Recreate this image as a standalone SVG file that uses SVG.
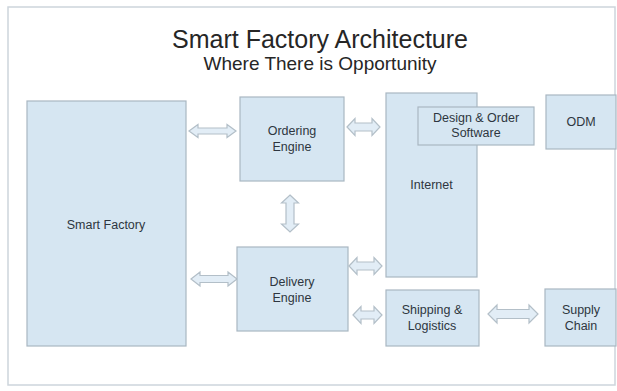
<svg xmlns="http://www.w3.org/2000/svg" width="617" height="391" viewBox="0 0 617 391">
<style>
.node{fill:#d6e6f2;stroke:#a9b7c2;stroke-width:1.2}
.lbl{font-family:"Liberation Sans",Arial,sans-serif;font-size:12.5px;fill:#2e3640;text-anchor:middle}
.arr{fill:#e2edf6;stroke:#b3bfc8;stroke-width:1.2;stroke-linejoin:miter}
.title{font-family:"Liberation Sans",Arial,sans-serif;fill:#262626;text-anchor:middle}
</style>
<rect x="0" y="0" width="617" height="391" fill="#ffffff"/>
<rect x="8" y="7" width="607" height="378" fill="#ffffff" stroke="#cdd5dc" stroke-width="1.5"/>
<text class="title" x="320" y="48" font-size="25">Smart Factory Architecture</text>
<text class="title" x="320" y="70" font-size="19">Where There is Opportunity</text>
<g id="connectors">
<path class="arr" d="M189 131 L198 124.5 L198 128 L227 128 L227 124.5 L236 131 L227 137.5 L227 134 L198 134 L198 137.5 Z"/>
<path class="arr" d="M191 279 L200 272 L200 275.5 L228 275.5 L228 272 L237 279 L228 286 L228 282.5 L200 282.5 L200 286 Z"/>
<path class="arr" d="M347 127 L355 118.5 L355 123 L372 123 L372 118.5 L380 127 L372 135.5 L372 131 L355 131 L355 135.5 Z"/>
<path class="arr" d="M349 266 L357 257.5 L357 262 L374 262 L374 257.5 L382 266 L374 274.5 L374 270 L357 270 L357 274.5 Z"/>
<path class="arr" d="M353 315 L361 306.5 L361 311 L374 311 L374 306.5 L382 315 L374 323.5 L374 319 L361 319 L361 323.5 Z"/>
<path class="arr" d="M488 314 L497 305 L497 309.5 L529 309.5 L529 305 L538 314 L529 323 L529 318.5 L497 318.5 L497 323 Z"/>
<path class="arr" d="M290 195 L298.5 203 L294 203 L294 224 L298.5 224 L290 232 L281.5 224 L286 224 L286 203 L281.5 203 Z"/>
</g>
<g id="smart-factory">
<rect class="node" x="27" y="101" width="159" height="245"/>
<text class="lbl" x="106" y="229">Smart Factory</text>
</g>
<g id="ordering-engine">
<rect class="node" x="240" y="97" width="104" height="84"/>
<text class="lbl" x="292" y="135">Ordering</text>
<text class="lbl" x="292" y="151">Engine</text>
</g>
<g id="delivery-engine">
<rect class="node" x="237" y="247" width="111" height="84"/>
<text class="lbl" x="292" y="286">Delivery</text>
<text class="lbl" x="292" y="302">Engine</text>
</g>
<g id="internet">
<rect class="node" x="386" y="93" width="91" height="184"/>
<text class="lbl" x="431.5" y="189">Internet</text>
</g>
<g id="design-order-software">
<rect class="node" x="418" y="107" width="116" height="38"/>
<text class="lbl" x="476" y="122">Design &amp; Order</text>
<text class="lbl" x="476" y="137">Software</text>
</g>
<g id="odm">
<rect class="node" x="546" y="95" width="70" height="54"/>
<text class="lbl" x="581" y="126">ODM</text>
</g>
<g id="shipping-logistics">
<rect class="node" x="386" y="290" width="93" height="56"/>
<text class="lbl" x="432" y="314">Shipping &amp;</text>
<text class="lbl" x="432" y="330">Logistics</text>
</g>
<g id="supply-chain">
<rect class="node" x="545" y="289" width="71" height="57"/>
<text class="lbl" x="581" y="314">Supply</text>
<text class="lbl" x="581" y="330">Chain</text>
</g>
</svg>
